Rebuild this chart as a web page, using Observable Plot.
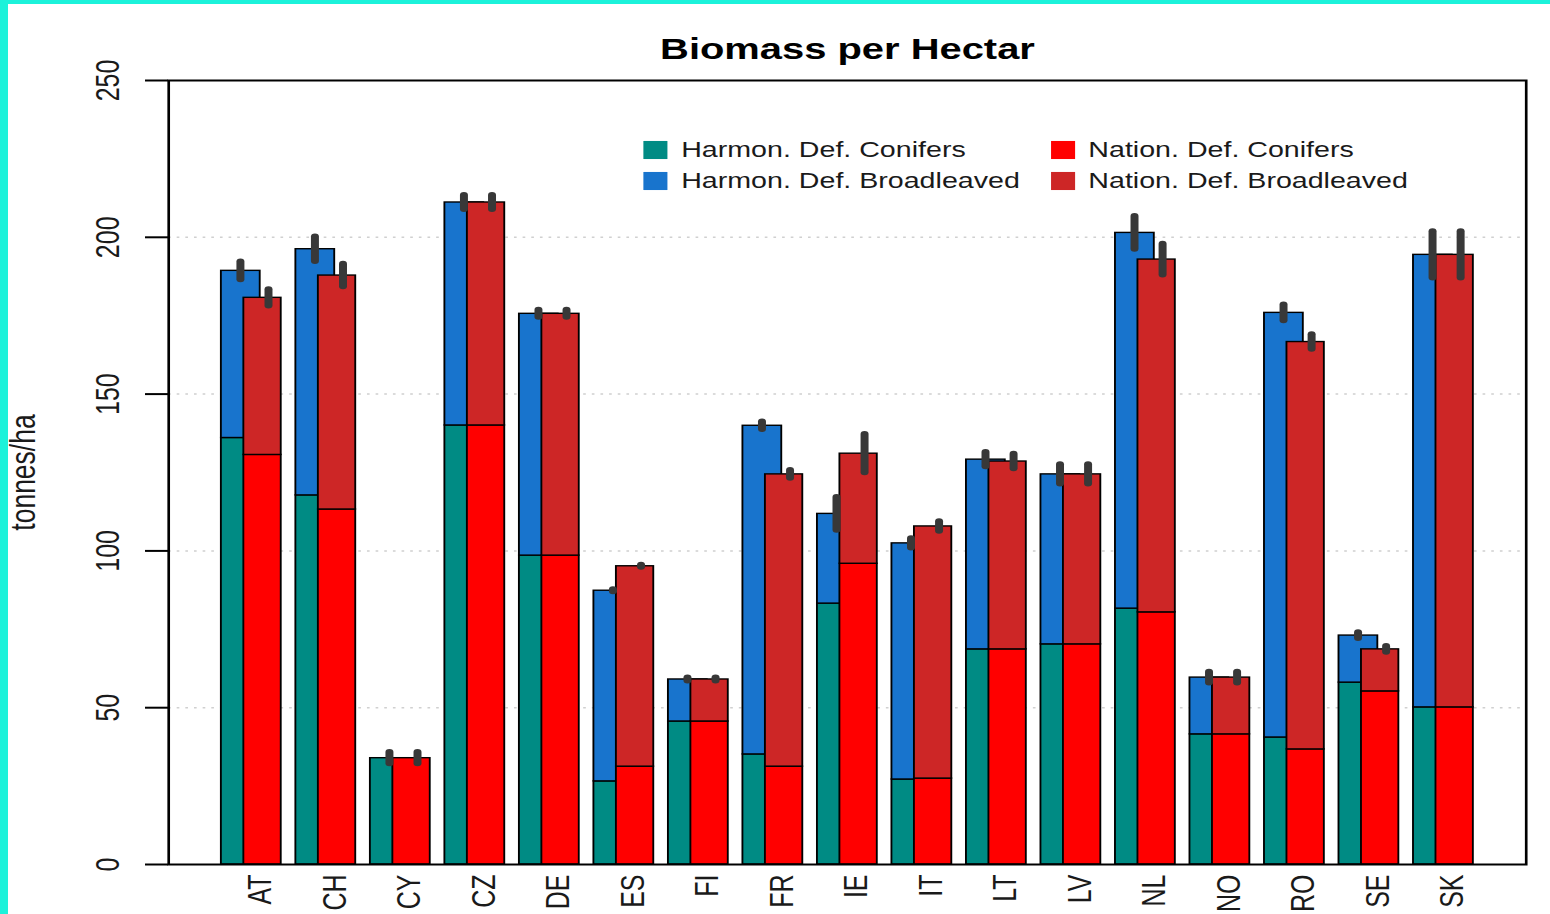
<!DOCTYPE html>
<html><head><meta charset="utf-8">
<script src="https://cdn.jsdelivr.net/npm/d3@7"></script>
<script src="https://cdn.jsdelivr.net/npm/@observablehq/plot@0.6"></script>
<style>
html,body{margin:0;padding:0;width:1550px;height:914px;overflow:hidden;background:#1cf2da;}
#paper{position:absolute;left:8px;top:4px;width:1542px;height:910px;background:#fff;}
#chart{position:absolute;left:0;top:0;width:1165px;transform:scaleX(1.3305);transform-origin:0 0;}
</style></head><body><div id="paper"></div><div id="chart"></div>
<script>
const title = "Biomass per Hectar";
const yLabel = "tonnes/ha";
const countries = ["AT","CH","CY","CZ","DE","ES","FI","FR","IE","IT","LT","LV","NL","NO","RO","SE","SK"];
const harmConifers    = [136.0, 117.7, 33.9, 140.0, 98.5, 26.5, 45.6, 35.1, 83.2, 27.1, 68.6, 70.2, 81.6, 41.5, 40.5, 58.0, 50.1];
const harmBroadleaved = [53.3, 78.5, 0.0, 71.1, 77.1, 60.8, 13.4, 104.8, 28.6, 75.3, 60.5, 54.2, 119.8, 18.1, 135.4, 15.0, 144.3];
const natConifers     = [130.6, 113.2, 33.9, 140.0, 98.5, 31.2, 45.6, 31.2, 95.9, 27.4, 68.6, 70.2, 80.4, 41.5, 36.7, 55.2, 50.1];
const natBroadleaved  = [50.1, 74.6, 0.0, 71.1, 77.1, 63.9, 13.4, 93.2, 35.1, 80.4, 59.9, 54.2, 112.5, 18.1, 129.9, 13.4, 144.3];
const harmErr = [2.8, 3.9, 1.8, 2.2, 1.1, 0.3, 0.5, 1.2, 5.2, 1.5, 2.3, 3.1, 5.2, 1.7, 2.5, 0.9, 7.4];
const natErr  = [2.6, 3.6, 1.8, 2.2, 1.1, 0.3, 0.5, 1.2, 6.1, 1.5, 2.3, 3.1, 4.9, 1.7, 2.3, 0.9, 7.4];
const yTicks = [0, 50, 100, 150, 200, 250];
const gridValues = [50, 100, 150, 200];
const seriesNames = ["Harmon. Def. Conifers","Harmon. Def. Broadleaved","Nation. Def. Conifers","Nation. Def. Broadleaved"];
const seriesColors = ["#008b84","#1874cd","#ff0000","#cd2626"];

const harmRows = countries.flatMap((c,i)=>[
  {country:c, series:seriesNames[0], value:harmConifers[i]},
  {country:c, series:seriesNames[1], value:harmBroadleaved[i]}]);
const natRows = countries.flatMap((c,i)=>[
  {country:c, series:seriesNames[2], value:natConifers[i]},
  {country:c, series:seriesNames[3], value:natBroadleaved[i]}]);
const harmTop = countries.map((c,i)=>({country:c, top:harmConifers[i]+harmBroadleaved[i], err:harmErr[i]}));
const natTop = countries.map((c,i)=>({country:c, top:natConifers[i]+natBroadleaved[i], err:natErr[i]}));

const legendSquareDx = [365.8, 672.2];
const legendTextDx = [385.2, 691.2];
const legendDy = [69.5, 100.5];
const legendMarks = seriesNames.flatMap((name,i)=>{
  const col = Math.floor(i/2), row = i%2;
  return [
    Plot.dot([name], {frameAnchor:"top-left", dx:legendSquareDx[col], dy:legendDy[row], symbol:"square", r:10.2, fill:d=>d, stroke:null}),
    Plot.text([name], {frameAnchor:"top-left", dx:legendTextDx[col], dy:legendDy[row], textAnchor:"start", lineAnchor:"middle", fontSize:21.5, fill:"#1a1a1a"})
  ];
});

const chart = Plot.plot({
  width:1165, height:914,
  marginLeft:126.3, marginRight:18.4, marginTop:80, marginBottom:50,
  style:{background:"transparent", fontFamily:"'Liberation Sans', Arial, sans-serif", color:"#1a1a1a", overflow:"visible"},
  x:{domain:countries, paddingInner:0.2, paddingOuter:0.67},
  y:{domain:[0,250]},
  color:{domain:seriesNames, range:seriesColors},
  marks:[
    Plot.ruleY(gridValues, {stroke:"#d0d0d0", strokeWidth:1.5, strokeDasharray:"2,4.5"}),
    Plot.barY(harmRows, {x:"country", y:"value", fill:"series", stroke:"#000", strokeWidth:1.4, insetRight:15.8}),
    Plot.barY(natRows, {x:"country", y:"value", fill:"series", stroke:"#000", strokeWidth:1.4, insetLeft:16.9}),
    Plot.ruleX(harmTop, {x:"country", y1:d=>d.top-d.err, y2:d=>d.top+d.err, stroke:"#383838", strokeWidth:6, strokeLinecap:"round", dx:-8.3}),
    Plot.ruleX(natTop, {x:"country", y1:d=>d.top-d.err, y2:d=>d.top+d.err, stroke:"#383838", strokeWidth:6, strokeLinecap:"round", dx:12.8}),
    Plot.frame({stroke:"#000", strokeWidth:2}),
    Plot.axisY({ticks:yTicks, tickSize:17.3, tickPadding:20, tickRotate:-90, textAnchor:"middle", lineAnchor:"bottom", fontSize:25, strokeWidth:2, stroke:"#000", fill:"#1a1a1a", tickFormat:d=>String(d), label:null}),
    Plot.axisX({tickSize:0, tickPadding:10, tickRotate:-90, textAnchor:"end", lineAnchor:"middle", fontSize:25, fill:"#1a1a1a", dx:6.8, label:null}),
    Plot.text([yLabel], {frameAnchor:"left", rotate:-90, dx:-109, textAnchor:"middle", lineAnchor:"middle", fontSize:26.5, fill:"#1a1a1a"}),
    Plot.text([title], {frameAnchor:"top", dy:-31, textAnchor:"middle", lineAnchor:"middle", fontSize:30, fontWeight:"bold", fill:"#000"}),
    ...legendMarks
  ]
});
document.getElementById("chart").appendChild(chart);
</script>
</body></html>
